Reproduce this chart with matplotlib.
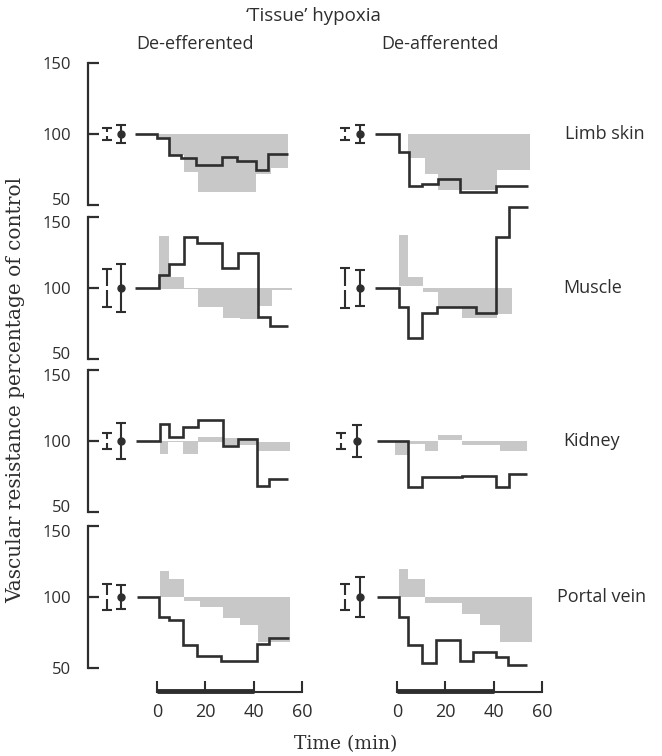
import matplotlib
matplotlib.use("Agg")
import matplotlib.pyplot as plt
import matplotlib.transforms as mtransforms
import numpy as np

# ---------------- data ----------------
rows = ["Limb skin", "Muscle", "Kidney", "Portal vein"]
columns = ["De-efferented", "De-afferented"]

# step-line edges (min) and values (% of control)
skin_eff_t = [-9, 0, 5, 10, 16, 27, 33, 41, 46, 54]
skin_eff_v = [100, 97, 85, 83, 78, 84, 81, 75, 86]
skin_aff_t = [-9, 1, 5, 10.5, 17, 26, 41, 54]
skin_aff_v = [100, 87.5, 63.5, 65, 68, 59.5, 63.5]

muscle_eff_t = [-9, 1, 5, 11, 16.7, 26.7, 33.3, 41.6, 46.7, 54.3]
muscle_eff_v = [100, 109, 116.7, 135.7, 131.5, 114, 124.4, 79.4, 73.2]
muscle_aff_t = [-9, 1, 4.7, 10.5, 16.4, 32.5, 41, 46.4, 54.3]
muscle_aff_v = [100, 86.4, 64.6, 82.6, 86.4, 82.2, 135.7, 156.8]

kidney_eff_t = [-8.7, 1.2, 5, 10.6, 16.8, 27.1, 33.6, 41.2, 46.4, 54.3]
kidney_eff_v = [100, 111.7, 102.6, 109.6, 114.7, 96.5, 101.2, 68, 73.4]
kidney_aff_t = [-8.4, 4.4, 10.2, 26.7, 40.8, 46.3, 53.9]
kidney_aff_v = [100, 67.6, 74.3, 75.7, 67.6, 77]

portal_eff_t = [-8.1, 1, 5, 10.9, 16.4, 26.4, 41.2, 46.4, 54.7]
portal_eff_v = [100, 86, 83.8, 66.2, 58.7, 55, 66.9, 70.9]
portal_aff_t = [-8.4, 1, 4.4, 10.2, 16.1, 26, 31.5, 40.8, 46, 53.6]
portal_aff_v = [100, 85.7, 66.2, 53.8, 69.4, 55, 61.1, 58, 52.1]

# shaded (stippled) ranges: edges, lower, upper
skin_eff_st = [1, 5, 11, 17, 41, 47, 54]
skin_eff_lo = [97, 85, 73.5, 59, 72, 76]
skin_eff_hi = [100, 100, 100, 100, 100, 100]
skin_aff_st = [4.7, 11.6, 17, 41.2, 55]
skin_aff_lo = [83, 72, 60.5, 74.6]
skin_aff_hi = [100, 100, 100, 100]

muscle_eff_st = [1, 5, 11, 17, 27.4, 34.3, 41.9, 47.4, 55.7]
muscle_eff_lo = [99, 99, 99.5, 86.4, 78.6, 78, 87, 98.5]
muscle_eff_hi = [136.6, 108, 100, 100, 100, 100, 100, 100]
muscle_aff_st = [1, 4.7, 10.9, 17, 26.7, 41.2, 47.4]
muscle_aff_lo = [101.4, 101.4, 97, 85.7, 78.6, 82]
muscle_aff_hi = [137.3, 108, 100, 100, 100, 100]

kidney_eff_st = [1.2, 4.7, 10.9, 17, 27.4, 41.9, 55]
kidney_eff_lo = [90.7, 99.5, 90.7, 99, 97, 93]
kidney_eff_hi = [100, 100, 100, 103, 102, 99]
kidney_aff_st = [-0.8, 4.7, 11.6, 17, 26.7, 42.6, 53.9]
kidney_aff_lo = [90.2, 98, 93, 101, 97, 93]
kidney_aff_hi = [100, 100, 100, 104, 100, 100]

portal_eff_st = [1.2, 5, 11.2, 17.8, 27.4, 34.3, 41.9, 55]
portal_eff_lo = [100, 100, 97, 93, 85, 80, 68.5]
portal_eff_hi = [118.5, 113, 100, 100, 100, 100, 100]
portal_aff_st = [1, 4.7, 11.6, 26.7, 34.3, 42.6, 55.7]
portal_aff_lo = [100, 100, 96, 88, 80, 68]
portal_aff_hi = [120, 113, 100, 100, 100, 100]

# control error bars: x positions (min) and half-widths [plain, with dot]
eb_x_eff = [-20.7, -15.0]
eb_x_aff = [-21.5, -15.3]
eb_x_kidney_aff = [-23.0, -16.6]
skin_err = [[4.5, 6.0], [4.2, 6.5]]
muscle_err = [[13.7, 17.0], [14.3, 13.0]]
kidney_err = [[5.9, 12.9], [5.9, 11.0]]
portal_err = [[8.9, 8.6], [9.4, 13.9]]

time_ticks = [0, 20, 40, 60]
y_ticks = [50, 100, 150]
hypoxia_period = [0, 40]

# ---------------- assemble ----------------
lines = [[(skin_eff_t, skin_eff_v), (skin_aff_t, skin_aff_v)],
         [(muscle_eff_t, muscle_eff_v), (muscle_aff_t, muscle_aff_v)],
         [(kidney_eff_t, kidney_eff_v), (kidney_aff_t, kidney_aff_v)],
         [(portal_eff_t, portal_eff_v), (portal_aff_t, portal_aff_v)]]
shades = [[(skin_eff_st, skin_eff_lo, skin_eff_hi), (skin_aff_st, skin_aff_lo, skin_aff_hi)],
          [(muscle_eff_st, muscle_eff_lo, muscle_eff_hi), (muscle_aff_st, muscle_aff_lo, muscle_aff_hi)],
          [(kidney_eff_st, kidney_eff_lo, kidney_eff_hi), (kidney_aff_st, kidney_aff_lo, kidney_aff_hi)],
          [(portal_eff_st, portal_eff_lo, portal_eff_hi), (portal_aff_st, portal_aff_lo, portal_aff_hi)]]
errs = [skin_err, muscle_err, kidney_err, portal_err]

W, H = 662, 756
fig = plt.figure(figsize=(W / 100, H / 100), dpi=100)
fig.patch.set_facecolor("white")

SANS = ["Open Sans", "DejaVu Sans"]
SERIF = ["DejaVu Serif"]
INK = "#2e2e2e"
SHADE = "#c8c8c8"


def px_axes(x0, x1, ytop, ybot):
    return fig.add_axes([x0 / W, 1 - ybot / H, (x1 - x0) / W, (ybot - ytop) / H])


col_t0 = [157, 397]
xscale = 2.42
XLIM = (-28.5, 62)
y100 = [134, 288, 441, 597]
yscale = 1.42
YLIM = (40, 165)
row_label_x = [565, 563, 563, 557]

for r in range(4):
    for c in range(2):
        x0 = col_t0[c] + XLIM[0] * xscale
        x1 = col_t0[c] + XLIM[1] * xscale
        ytop = y100[r] - (YLIM[1] - 100) * yscale
        ybot = y100[r] + (100 - YLIM[0]) * yscale
        ax = px_axes(x0, x1, ytop, ybot)
        ax.set_xlim(*XLIM)
        ax.set_ylim(*YLIM)
        ax.patch.set_alpha(0)
        for s in ["top", "right", "bottom"]:
            ax.spines[s].set_visible(False)
        ax.set_xticks([])
        if c == 0:
            ax.spines["left"].set_bounds(50, 150)
            ax.spines["left"].set_linewidth(1.6)
            ax.spines["left"].set_color(INK)
            ax.set_yticks(y_ticks)
            ax.set_yticklabels([str(v) for v in y_ticks], fontfamily=SANS,
                               fontsize=12, color=INK)
            ax.tick_params(axis="y", direction="in", length=8, width=1.6,
                           color=INK, pad=12)
            # nudge crowded 50 / 150 labels apart like the original
            for lab, val in zip(ax.get_yticklabels(), y_ticks):
                dy = 0
                if val == 50 and r < 3:
                    dy = 6
                elif val == 150 and r > 0:
                    dy = -5
                if dy:
                    off = mtransforms.ScaledTranslation(0, dy / 100, fig.dpi_scale_trans)
                    lab.set_transform(lab.get_transform() + off)
        else:
            ax.spines["left"].set_visible(False)
            ax.set_yticks([])

        st, lo, hi = shades[r][c]
        ax.fill_between(st, lo + [lo[-1]], hi + [hi[-1]], step="post",
                        color=SHADE, lw=0, zorder=1)

        t, v = lines[r][c]
        ax.stairs(v, t, color=INK, lw=1.9, baseline=None, zorder=3, clip_on=False)

        ex = eb_x_eff if c == 0 else (eb_x_kidney_aff if r == 2 else eb_x_aff)
        e_plain, e_dot = errs[r][c]
        ax.errorbar([ex[0]], [100], yerr=[e_plain], fmt="none", ecolor=INK,
                    elinewidth=1.5, capsize=3.6, capthick=1.5, zorder=3)
        ax.plot([ex[0]], [100], marker="s", ms=2.2, color="white", mew=0, zorder=4)
        ax.errorbar([ex[1]], [100], yerr=[e_dot], fmt="o", color=INK, ms=5,
                    elinewidth=1.5, capsize=3.6, capthick=1.5, zorder=3)

    fig.text(row_label_x[r] / W, 1 - y100[r] / H, rows[r], fontfamily=SANS,
             fontsize=13, color=INK, ha="left", va="center")

# time axes
for c in range(2):
    x0 = col_t0[c] + XLIM[0] * xscale
    x1 = col_t0[c] + XLIM[1] * xscale
    tax = px_axes(x0, x1, 672, 692)
    tax.set_xlim(*XLIM)
    tax.set_ylim(0, 1)
    tax.patch.set_alpha(0)
    for s in ["top", "right", "left"]:
        tax.spines[s].set_visible(False)
    tax.spines["bottom"].set_bounds(time_ticks[0], time_ticks[-1])
    tax.spines["bottom"].set_linewidth(1.5)
    tax.spines["bottom"].set_color(INK)
    tax.set_yticks([])
    tax.set_xticks(time_ticks)
    tax.set_xticklabels([str(v) for v in time_ticks], fontfamily=SANS,
                        fontsize=13, color=INK)
    tax.tick_params(axis="x", direction="in", length=8, width=1.5, color=INK, pad=8)
    tax.plot(hypoxia_period, [0.06, 0.06], color=INK, lw=3.5,
             solid_capstyle="butt", clip_on=False)

# titles
fig.text(313 / W, 1 - 16 / H, "\u2018Tissue\u2019 hypoxia", fontfamily=SANS,
         fontsize=13.5, color=INK, ha="center", va="center")
fig.text(195 / W, 1 - 44 / H, columns[0], fontfamily=SANS, fontsize=13,
         color=INK, ha="center", va="center")
fig.text(440 / W, 1 - 44 / H, columns[1], fontfamily=SANS, fontsize=13,
         color=INK, ha="center", va="center")
fig.text(16 / W, 1 - 390 / H, "Vascular resistance percentage of control",
         fontfamily=SERIF, fontsize=14.5, color=INK, rotation=90,
         ha="center", va="center")
fig.text(346 / W, 1 - 744 / H, "Time (min)", fontfamily=SERIF, fontsize=13.5,
         color=INK, ha="center", va="center")

fig.savefig("out.png", dpi=100, facecolor="white")
